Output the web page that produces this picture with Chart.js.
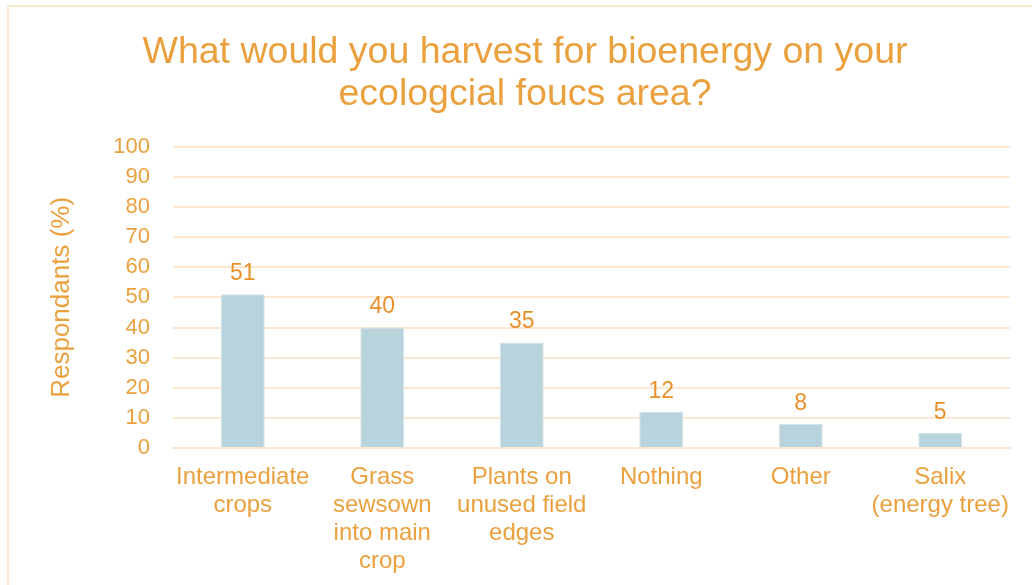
<!DOCTYPE html>
<html>
<head>
<meta charset="utf-8">
<script src="https://cdn.jsdelivr.net/npm/chart.js@4"></script>
<style>
  html, body { margin: 0; padding: 0; background: #fff; overflow: hidden; }
  #wrap { position: relative; width: 1032px; height: 585px; }
  #frame {
    position: absolute; left: 7px; top: 5px; width: 1040px; height: 600px;
    border-left: 2px solid #fde7cf; border-top: 2px solid #fde7cf;
    box-sizing: border-box; pointer-events: none;
  }
  canvas { position: absolute; left: 0; top: 0; }
</style>
</head>
<body>
<div id="wrap">
  <canvas id="chart" width="1032" height="585"></canvas>
  <div id="frame"></div>
</div>
<script>
const categories = [
  ['Intermediate', 'crops'],
  ['Grass', 'sewsown', 'into main', 'crop'],
  ['Plants on', 'unused field', 'edges'],
  ['Nothing'],
  ['Other'],
  ['Salix', '(energy tree)']
];
const respondents = [51, 40, 35, 12, 8, 5];
const yTicks = [0, 10, 20, 30, 40, 50, 60, 70, 80, 90, 100];

const orange = '#eba03e';
const labelOrange = '#e8902a';
const gridColor = '#fce8d0';
const fontFamily = '"Liberation Sans", Arial, sans-serif';

// writes each bar's value just above it
const valueLabels = {
  id: 'valueLabels',
  afterDatasetsDraw(chart) {
    const ctx = chart.ctx;
    const meta = chart.getDatasetMeta(0);
    ctx.save();
    ctx.fillStyle = labelOrange;
    ctx.font = '23px ' + fontFamily;
    ctx.textAlign = 'center';
    ctx.textBaseline = 'bottom';
    meta.data.forEach((bar, i) => {
      ctx.fillText(String(respondents[i]), bar.x, bar.y - 9);
    });
    ctx.restore();
  }
};

new Chart(document.getElementById('chart'), {
  type: 'bar',
  data: {
    labels: categories,
    datasets: [{
      data: respondents,
      backgroundColor: '#b9d3dc',
      borderColor: '#d2e3e9',
      borderWidth: 1,
      barPercentage: 0.63,
      categoryPercentage: 0.5
    }]
  },
  options: {
    responsive: false,
    animation: false,
    layout: { padding: { left: 40, right: 22, top: 0, bottom: 0 } },
    plugins: {
      legend: { display: false },
      tooltip: { enabled: false },
      title: {
        display: true,
        text: ['What would you harvest for bioenergy on your', 'ecologcial foucs area?'],
        color: orange,
        font: { family: fontFamily, size: 37.5, weight: 'normal', lineHeight: 1.13 },
        padding: { top: 31, bottom: 31 }
      }
    },
    scales: {
      x: {
        grid: { display: false, drawTicks: false },
        border: { display: true, color: gridColor, width: 2 },
        ticks: {
          color: orange,
          font: { family: fontFamily, size: 24, lineHeight: 1.17 },
          maxRotation: 0,
          autoSkip: false,
          padding: 15
        },
        afterFit(scale) { scale.height = 137; }
      },
      y: {
        min: 0,
        max: 100,
        afterBuildTicks(scale) { scale.ticks = yTicks.map(v => ({ value: v })); },
        grid: { color: gridColor, lineWidth: 2, drawTicks: false },
        border: { display: false },
        ticks: {
          color: orange,
          font: { family: fontFamily, size: 22 },
          padding: 23
        },
        title: {
          display: true,
          text: 'Respondants (%)',
          color: orange,
          font: { family: fontFamily, size: 26 },
          padding: { top: 6, bottom: 0 }
        },
        afterFit(scale) { scale.width = 133; }
      }
    }
  },
  plugins: [valueLabels]
});
</script>
</body>
</html>
